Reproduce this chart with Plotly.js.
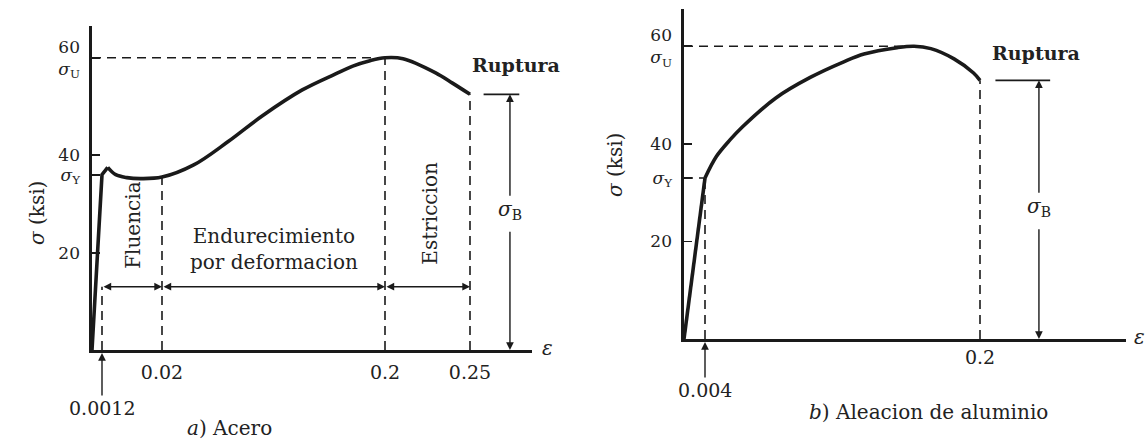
<!DOCTYPE html>
<html>
<head>
<meta charset="utf-8">
<script src="https://cdn.plot.ly/plotly-3.0.1.min.js"></script>
<style>
  html, body { margin: 0; padding: 0; background: #ffffff; }
  #chart { width: 1145px; height: 441px; }
</style>
</head>
<body>
<div id="chart"></div>
<script>
// ---- a) Acero : strain (in/in) vs stress (ksi) ----
const steelElasticStrain = [0, 0.0012, 0.003];
const steelElasticStress = [0, 36, 37.5];
const steelPlasticStrain = [0.003, 0.0055, 0.009, 0.0132, 0.02, 0.0456, 0.0734, 0.1005, 0.1332, 0.1601, 0.174, 0.1879, 0.2, 0.2106, 0.2298, 0.2397, 0.25];
const steelPlasticStress = [37.5, 36.0, 35.4, 35.2, 35.5, 38, 42.8, 48, 53.4, 56.7, 58.3, 59.4, 60, 59.8, 56.9, 54.8, 52.5];

// ---- b) Aleacion de aluminio ----
const alElasticStrain = [0, 0.004];
const alElasticStress = [0, 33];
const alPlasticStrain = [0.004, 0.0121, 0.0218, 0.0304, 0.0545, 0.079, 0.1029, 0.1173, 0.1409, 0.153, 0.165, 0.1815, 0.1954, 0.2];
const alPlasticStress = [33, 37.4, 40.8, 43.4, 49.4, 53.6, 56.8, 58.4, 59.7, 60, 59.5, 57.4, 54.5, 53];

// Characteristic stresses (ksi)
const steelYield = 36, steelUltimate = 60, steelRupture = 52.5;
const alYield = 33, alUltimate = 60, alRupture = 53;

// Strain tick labels
const steelTickStrain = [0.02, 0.2, 0.25];
const steelTickText = ['0.02', '0.2', '0.25'];
const alTickStrain = [0.2];
const alTickText = ['0.2'];
const steelMarkedStrain = 0.0012, alMarkedStrain = 0.004;
const alPeakStrain = 0.153;

// ---- drawing helpers ----
const INK = '#1a1a1a';
const TXT = '#222222';
const FONT = 'DejaVu Serif, Liberation Serif, serif';

// The strain axes are schematic: piecewise-linear spacing between labelled strains.
function makeWarp(strainKnots, posKnots) {
  return function (s) {
    let i = 1;
    while (i < strainKnots.length - 1 && s > strainKnots[i]) i++;
    const t = (s - strainKnots[i - 1]) / (strainKnots[i] - strainKnots[i - 1]);
    return posKnots[i - 1] + t * (posKnots[i] - posKnots[i - 1]);
  };
}
const wA = makeWarp([0, 0.0012, 0.02, 0.2, 0.25], [0, 10, 70, 293, 378]);
const wB = makeWarp([0, 0.004, 0.2], [0, 21, 296]);

function stressAt(strains, stresses, s) { return stresses[strains.indexOf(s)]; }

const W = 1145, H = 441;
const frameA = { left: 92, right: 532, top: 26, bottom: 350, pxPerKsi: 4.87 };
const frameB = { left: 684, right: 1126, top: 9, bottom: 339, pxPerKsi: 4.88 };

function xDomain(f) { return [f.left / W, f.right / W]; }
function yDomain(f) { return [(H - f.bottom) / H, (H - f.top) / H]; }
function xSpan(f) { return f.right - f.left; }
function ySpan(f) { return (f.bottom - f.top) / f.pxPerKsi; }

function curve(xs, ys, warp, xa, ya, spline) {
  return {
    type: 'scatter', mode: 'lines', xaxis: xa, yaxis: ya,
    x: xs.map(warp), y: ys, cliponaxis: false, hoverinfo: 'skip',
    line: { color: INK, width: 3.6, shape: spline ? 'spline' : 'linear', smoothing: 1 }
  };
}

const traces = [
  curve(steelElasticStrain, steelElasticStress, wA, 'x', 'y', false),
  curve(steelPlasticStrain, steelPlasticStress, wA, 'x', 'y', true),
  curve(alElasticStrain, alElasticStress, wB, 'x2', 'y2', false),
  curve(alPlasticStrain, alPlasticStress, wB, 'x2', 'y2', true)
];

// Dashed guide lines
const DASH = { color: INK, width: 1.6, dash: '9px,6px' };
function guide(xr, yr, x0, x1, y0, y1) {
  return { type: 'line', xref: xr, yref: yr, x0, x1, y0, y1, line: DASH, layer: 'below' };
}
const zoneLevel = 13;   // ksi, height of the zone arrows in a)
const steelAt002 = stressAt(steelPlasticStrain, steelPlasticStress, 0.02);

const shapes = [
  guide('x', 'y', 0, wA(0.2), steelUltimate, steelUltimate),
  guide('x', 'y', wA(steelMarkedStrain), wA(steelMarkedStrain), 0, zoneLevel),
  guide('x', 'y', wA(0.02), wA(0.02), 0, steelAt002),
  guide('x', 'y', wA(0.2), wA(0.2), 0, steelUltimate),
  guide('x', 'y', wA(0.25), wA(0.25), 0, steelRupture),
  guide('x2', 'y2', 0, wB(alPeakStrain), alUltimate, alUltimate),
  guide('x2', 'y2', 0, wB(alMarkedStrain), alYield, alYield),
  guide('x2', 'y2', wB(alMarkedStrain), wB(alMarkedStrain), 0, alYield),
  guide('x2', 'y2', wB(0.2), wB(0.2), 0, alRupture),
  // rupture level bars
  { type: 'line', xref: 'x', yref: 'y', x0: wA(0.258), x1: wA(0.279), y0: steelRupture, y1: steelRupture, line: { color: INK, width: 1.8 } },
  { type: 'line', xref: 'x2', yref: 'y2', x0: wB(0.211), x1: wB(0.25), y0: alRupture, y1: alRupture, line: { color: INK, width: 1.8 } }
];

const TF = { family: FONT, size: 20, color: TXT };
const SF = { family: FONT, size: 19, color: TXT };
const YF = { family: FONT, size: 17, color: TXT };
const CF = { family: FONT, size: 20, color: TXT };
const ARROW = { showarrow: true, arrowhead: 2, arrowsize: 1.1, arrowwidth: 1.4, arrowcolor: INK };

function text(xr, yr, x, y, t, extra) {
  return Object.assign({ xref: xr, yref: yr, x, y, text: t, showarrow: false, font: TF,
    xanchor: 'center', yanchor: 'middle' }, extra || {});
}
function span(xr, yr, s0, s1, y, warp) {
  return Object.assign({ xref: xr, yref: yr, axref: xr, ayref: yr, x: warp(s1), y, ax: warp(s0), ay: y,
    text: '', arrowside: 'end+start', standoff: 0, startstandoff: 0 }, ARROW);
}

const sigB = '<i>σ</i><sub>B</sub>';
const steelBx = 0.2735, alBx = 0.242;
const steelBLabel = 28.7, steelBGap = 24.6;
const alBLabel = 27, alBGap = 22.8;

const annotations = [
  // a) region labels
  text('x', 'y', wA(0.0109), 25.7, 'Fluencia', { textangle: -90 }),
  text('x', 'y', wA(0.11), 20.7, 'Endurecimiento<br>por deformacion'),
  text('x', 'y', wA(0.2265), 28, 'Estriccion', { textangle: -90 }),
  text('x', 'y', wA(0.277), 58.5, '<b>Ruptura</b>', { font: { family: FONT, size: 19, color: TXT } }),
  span('x', 'y', steelMarkedStrain, 0.02, zoneLevel, wA),
  span('x', 'y', 0.02, 0.2, zoneLevel, wA),
  span('x', 'y', 0.2, 0.25, zoneLevel, wA),
  Object.assign({ xref: 'x', yref: 'y', axref: 'x', ayref: 'y', x: wA(steelBx), y: steelRupture,
    ax: wA(steelBx), ay: steelBLabel, text: sigB, font: TF, standoff: 0 }, ARROW),
  Object.assign({ xref: 'x', yref: 'y', axref: 'x', ayref: 'y', x: wA(steelBx), y: 0,
    ax: wA(steelBx), ay: steelBGap, text: '', standoff: 0 }, ARROW),
  Object.assign({ xref: 'x', yref: 'y', x: wA(steelMarkedStrain), y: 0, ax: 0, ay: 58,
    text: '0.0012', font: SF, standoff: 3 }, ARROW),
  text('x', 'y', xSpan(frameA), 0, '<i>ε</i>', { xanchor: 'left', xshift: 8, yshift: 2 }),
  text('paper', 'paper', 37 / W, 1 - 213 / H, '<i>σ</i> (ksi)', { textangle: -90 }),
  text('paper', 'paper', 229 / W, 1 - 428 / H, '<i>a</i>) Acero', { font: CF }),

  // b) labels
  text('x2', 'y2', wB(0.24), 58.6, '<b>Ruptura</b>', { font: { family: FONT, size: 19, color: TXT } }),
  Object.assign({ xref: 'x2', yref: 'y2', axref: 'x2', ayref: 'y2', x: wB(alBx), y: alRupture,
    ax: wB(alBx), ay: alBLabel, text: sigB, font: TF, standoff: 0 }, ARROW),
  Object.assign({ xref: 'x2', yref: 'y2', axref: 'x2', ayref: 'y2', x: wB(alBx), y: 0,
    ax: wB(alBx), ay: alBGap, text: '', standoff: 0 }, ARROW),
  Object.assign({ xref: 'x2', yref: 'y2', x: wB(alMarkedStrain), y: 0, ax: 0, ay: 51,
    text: '0.004', font: SF, standoff: 3 }, ARROW),
  text('x2', 'y2', xSpan(frameB), 0, '<i>ε</i>', { xanchor: 'left', xshift: 6, yshift: 2 }),
  text('paper', 'paper', 615 / W, 1 - 165 / H, '<i>σ</i> (ksi)', { textangle: -90 }),
  text('paper', 'paper', 928 / W, 1 - 412 / H, '<i>b</i>) Aleacion de aluminio', { font: CF })
];

function xAxis(f, warp, tickStrain, tickText, anchor, standoff) {
  return {
    domain: xDomain(f), range: [0, xSpan(f)], anchor,
    showline: true, linecolor: INK, linewidth: 2.6, showgrid: false, zeroline: false,
    ticks: '', tickvals: tickStrain.map(warp), ticktext: tickText,
    tickfont: SF, ticklabelstandoff: standoff, fixedrange: true
  };
}
function yAxis(f, yieldVal, ultVal, anchor) {
  return {
    domain: yDomain(f), range: [0, ySpan(f)], anchor,
    showline: true, linecolor: INK, linewidth: 2.6, showgrid: false, zeroline: false,
    ticks: 'inside', ticklen: 8, tickwidth: 1.8, tickcolor: INK,
    tickvals: [20, yieldVal, 40, ultVal],
    ticktext: ['20', '<i>σ</i><sub>Y</sub>', '40', '60<br><i>σ</i><sub>U</sub>'],
    tickfont: YF, ticklabelstandoff: 6, fixedrange: true
  };
}

const layout = {
  width: W, height: H,
  margin: { l: 0, r: 0, t: 0, b: 0 },
  paper_bgcolor: '#ffffff', plot_bgcolor: 'rgba(0,0,0,0)',
  showlegend: false,
  font: { family: FONT, color: TXT, size: 19 },
  xaxis: xAxis(frameA, wA, steelTickStrain, steelTickText, 'y', 4),
  yaxis: yAxis(frameA, steelYield, steelUltimate, 'x'),
  xaxis2: xAxis(frameB, wB, alTickStrain, alTickText, 'y2', 0),
  yaxis2: yAxis(frameB, alYield, alUltimate, 'x2'),
  shapes, annotations
};

Plotly.newPlot('chart', traces, layout, { staticPlot: true, displayModeBar: false });
</script>
</body>
</html>
